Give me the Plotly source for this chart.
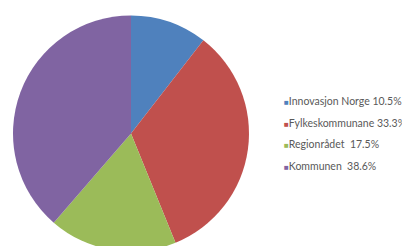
import plotly.graph_objects as go

labels = ["Innovasjon Norge", "Fylkeskommunane", "Regionrådet", "Kommunen"]
values = [10.5, 33.3, 17.5, 38.6]
legend_text = ["Innovasjon Norge 10.5%", "Fylkeskommunane 33.3%", "Regionrådet  17.5%", "Kommunen  38.6%"]
colors = ["#4F81BD", "#C0504D", "#9BBB59", "#8064A2"]

fig = go.Figure(go.Pie(
    labels=labels, values=values, sort=False, direction="clockwise", rotation=0,
    marker=dict(colors=colors, line=dict(width=0)),
    textinfo="none", hoverinfo="label+percent", showlegend=False,
    domain=dict(x=[5 / 410, 241 / 410], y=[0.008, 0.972]),
))

annotations = []
y0 = 1 - 93 / 246
dy = 21.5 / 246
for i, (t, c) in enumerate(zip(legend_text, colors)):
    annotations.append(dict(
        x=274 / 410, y=y0 - i * dy, xref="paper", yref="paper",
        xanchor="left", yanchor="middle", showarrow=False,
        text=f"<span style='color:{c};font-size:8px'>■</span>{t.replace('  ', '&nbsp; ')}",
        font=dict(family="Lato, Open Sans, sans-serif", size=10.5, color="#595959"),
    ))

fig.update_layout(
    width=410, height=246, margin=dict(l=0, r=0, t=0, b=0),
    paper_bgcolor="white", plot_bgcolor="white",
    annotations=annotations,
)
fig.write_html("out.html")
